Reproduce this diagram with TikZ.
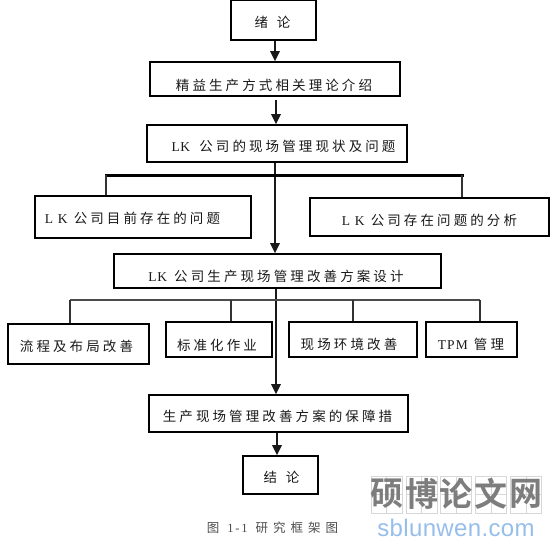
\documentclass[tikz,border=0pt]{standalone}
\usepackage{fontspec}
\usetikzlibrary{arrows.meta}
\setmainfont{Liberation Serif}
\newfontfamily\cjk[LetterSpace=23]{Noto Sans CJK SC}
\newfontfamily\cjkcap[LetterSpace=40]{Noto Sans CJK SC}
\newfontfamily\cjkwm{Noto Sans CJK SC Bold}
\newfontfamily\latsp[LetterSpace=35]{Liberation Serif}
\newfontfamily\latcap[LetterSpace=15]{Liberation Serif}
\newfontfamily\lattpm[LetterSpace=8]{Liberation Serif}
\newfontfamily\lattight[LetterSpace=5]{Liberation Serif}
\newfontfamily\wmlat[LetterSpace=1.5]{Liberation Sans}
\newcommand{\LKa}{{\lattight LK}}
\newcommand{\LKb}{{\latsp LK}}
\definecolor{wmblue}{RGB}{150,190,235}
\definecolor{wmgrid}{RGB}{215,215,215}
\definecolor{wmgray}{RGB}{125,125,125}
\tikzset{
  x=1pt,y=-1pt,
  boxn/.style={draw=black,line width=1.6pt,inner sep=0pt},
  lbl/.style={inner sep=0pt,font=\fontsize{13.5}{15}\selectfont\cjk,text=black!90},
  arr/.style={draw=black!90,line width=1.5pt,-{Stealth[length=10pt,width=9.5pt,inset=0pt]}},
  busthick/.style={draw=black,line width=3pt,line cap=rect},
  busthin/.style={draw=black!70,line width=1.3pt},
  branch/.style={draw=black!80,line width=1.3pt},
  wmcell/.style={draw=wmgrid,line width=0.7pt,minimum width=31pt,minimum height=37pt,inner sep=0pt},
  wmch/.style={inner sep=0pt,text=wmgray,font=\fontsize{33}{35}\selectfont\cjkwm},
}
\begin{document}
\begin{tikzpicture}
\useasboundingbox (0,0) rectangle (559,547);
% boxes: centre, size
\node[boxn,minimum width=85pt,minimum height=40pt] (n1) at (273.5,20) {};
\node[boxn,minimum width=250pt,minimum height=34pt] (n2) at (275,79) {};
\node[boxn,minimum width=260pt,minimum height=37pt] (n3) at (277,143.5) {};
\node[boxn,minimum width=216pt,minimum height=42pt] (n4) at (143,217) {};
\node[boxn,minimum width=239pt,minimum height=38pt] (n5) at (429.5,217) {};
\node[boxn,minimum width=327pt,minimum height=34pt] (n6) at (277.5,271) {};
\node[boxn,minimum width=141pt,minimum height=40pt] (n7) at (78.5,344) {};
\node[boxn,minimum width=106pt,minimum height=35pt] (n8) at (219,339.5) {};
\node[boxn,minimum width=128pt,minimum height=35pt] (n9) at (353,339.5) {};
\node[boxn,minimum width=91pt,minimum height=35pt] (n10) at (471.5,339.5) {};
\node[boxn,minimum width=259pt,minimum height=37pt] (n11) at (278.5,413.5) {};
\node[boxn,minimum width=75pt,minimum height=38pt] (n12) at (280.5,475) {};
% labels
\node[lbl] (t1) at (272.5,22) {绪\hspace{9pt}论};
\node[lbl] (t2) at (274,85) {精益生产方式相关理论介绍};
\node[lbl] (t3) at (283.5,146) {\LKa\hspace{3pt} 公司的现场管理现状及问题};
\node[lbl] (t4) at (132.5,218) {\LKb\ 公司目前存在的问题};
\node[lbl] (t5) at (429.5,220) {\LKb\ 公司存在问题的分析};
\node[lbl] (t6) at (276,276) {\LKa\hspace{1pt} 公司生产现场管理改善方案设计};
\node[lbl] (t7) at (76.5,346) {流程及布局改善};
\node[lbl] (t8) at (217,345) {标准化作业};
\node[lbl] (t9) at (349,344) {现场环境改善};
\node[lbl] (t10) at (471,344) {{\lattpm TPM}\ 管理};
\node[lbl] (t11) at (277.5,416) {生产现场管理改善方案的保障措};
\node[lbl] (t12) at (281.5,477) {结\hspace{9pt}论};
\node[lbl,font=\fontsize{12.5}{14}\selectfont\cjkcap,text=black!70] (cap) at (272.5,528) {图 {\latcap 1-1} 研究框架图};
% coordinates for connectors
\coordinate (xa) at (275,0);
\coordinate (xb) at (276,100);
\coordinate (xc) at (277,0);
\coordinate (busAl) at (106,175);
\coordinate (busAr) at (462,175);
\coordinate (busBl) at (70,300);
\coordinate (busBr) at (480,300);
\coordinate (xd) at (231,300);
\coordinate (xe) at (353,300);
% connectors
\draw[arr] (n1.south -| xa) -- (n2.north -| xa);
\draw[arr] (xb) -- (n3.north -| xb);
\draw[arr] (n3.south -| xa) -- (n6.north -| xa);
\draw[arr] (n6.south -| xb) -- (n11.north -| xb);
\draw[arr] (n11.south -| xc) -- (n12.north -| xc);
\draw[busthick] (busAl) -- (busAr);
\draw[branch] (busAl) -- (n4.north -| busAl);
\draw[branch] (busAr) -- (n5.north -| busAr);
\draw[busthin] (busBl) -- (busBr);
\draw[branch] (busBl) -- (n7.north -| busBl);
\draw[branch] (xd) -- (n8.north -| xd);
\draw[branch] (xe) -- (n9.north -| xe);
\draw[branch] (busBr) -- (n10.north -| busBr);
% watermark
\foreach \i/\cx/\ch in {1/386.5/硕,2/421.5/博,3/456/论,4/491/文,5/526/网}{
  \node[wmcell] (wm\i) at (\cx,494.5) {};
  \draw[wmgrid,line width=0.5pt] (wm\i.north) -- (wm\i.south) (wm\i.west) -- (wm\i.east);
  \node[wmch] (wc\i) at (\cx,494) {\ch};
}
\node[inner sep=0pt,text=wmblue,font=\fontsize{24}{26}\selectfont\wmlat] (wmt) at (456,528) {sblunwen.com};
\end{tikzpicture}
\end{document}
